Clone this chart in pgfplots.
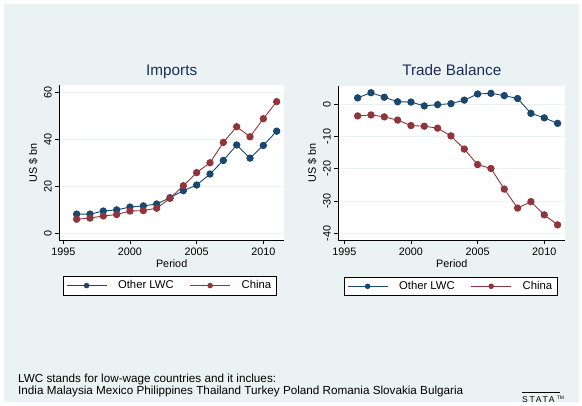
\documentclass[border=0pt]{standalone}
\usepackage{fontspec}
\setmainfont{Liberation Sans}
\usepackage{pgfplots}
\pgfplotsset{compat=1.18}
\definecolor{bg}{RGB}{234,242,243}
\definecolor{navyS}{RGB}{26,71,111}
\definecolor{maroonS}{RGB}{144,53,59}
\definecolor{titleS}{RGB}{30,45,90}

\pgfplotstableread{
year imp_lwc imp_chn bal_lwc bal_chn
1996 8.2 6.0 2.0 -3.6
1997 8.2 6.5 3.6 -3.3
1998 9.5 7.4 2.2 -3.9
1999 10.0 8.0 0.8 -4.9
2000 11.2 9.5 0.7 -6.6
2001 11.7 9.7 -0.5 -6.8
2002 12.5 10.7 -0.1 -7.4
2003 15.2 14.9 0.2 -9.8
2004 18.2 20.3 1.3 -13.9
2005 20.6 25.9 3.2 -18.7
2006 25.3 30.1 3.4 -19.9
2007 31.1 38.8 2.7 -26.3
2008 37.7 45.5 1.8 -32.2
2009 32.1 41.2 -2.8 -30.2
2010 37.5 48.9 -4.2 -34.3
2011 43.6 56.2 -5.9 -37.4
}\datatable

\pgfplotsset{
 statastyle/.style={
  scale only axis,
  axis x line*=bottom, axis y line*=left,
  axis line style={black, line width=0.8bp, -},
  axis background/.style={fill=white},
  tick align=outside,
  major tick length=4bp,
  tick style={black, line width=0.8bp},
  ymajorgrids, grid style={bg, line width=1bp},
  xtick={1995,2000,2005,2010},
  xticklabels={1995,2000,2005,2010},
  ticklabel style={font=\fontsize{10.8bp}{12bp}\selectfont},
  yticklabel style={rotate=90, anchor=south},
  title style={font=\fontsize{15.3bp}{17bp}\selectfont, text=titleS, anchor=base},
  xlabel={Period}, ylabel={US \$ bn},
  label style={font=\fontsize{10.8bp}{12bp}\selectfont},
  xlabel style={at={([yshift=-27bp]axis description cs:0.5,0)}, anchor=base},
  ylabel style={at={([xshift=-22.5bp]axis description cs:0,0.5)}, anchor=base},
  every axis plot/.append style={line width=0.9bp, mark=*, mark size=3.2bp},
  legend columns=2,
  legend style={anchor=north, draw=black, fill=white, line width=0.6bp,
    inner ysep=2.5bp, inner xsep=3bp,
    font=\fontsize{11.3bp}{13bp}\selectfont,
    /tikz/every odd column/.append style={column sep=9bp},
    /tikz/every even column/.append style={column sep=14bp}},
  legend image code/.code={\draw[mark size=2.3bp, mark repeat=2, mark phase=2] plot coordinates {(0bp,0bp) (20bp,0bp) (40bp,0bp)};},
 }
}

\begin{document}
\begin{tikzpicture}[x=1bp,y=1bp]
\fill[white] (0,0) rectangle (582,405);
\fill[bg] (4,3) rectangle (579,401);

\begin{axis}[statastyle,
  at={(59.3bp,165bp)}, anchor=south west,
  width=224.7bp, height=155bp,
  xmin=1994.7, xmax=2011.55,
  ymin=-2.86, ymax=63.3,
  ytick={0,20,40,60}, yticklabels={0,20,40,60},
  title={Imports},
  title style={at={([yshift=4bp]axis description cs:0.5,1)}},
  legend style={at={(0.491,-0.232)}},
]
\addplot[navyS, mark options={fill=navyS, draw=navyS}] table[x=year, y=imp_lwc] {\datatable};
\addplot[maroonS, mark options={fill=maroonS, draw=maroonS}] table[x=year, y=imp_chn] {\datatable};
\legend{Other LWC, China}
\end{axis}

\begin{axis}[statastyle,
  at={(338.3bp,165bp)}, anchor=south west,
  width=227bp, height=154bp,
  xmin=1994.55, xmax=2011.58,
  ymin=-42.1, ymax=5.68,
  ytick={-40,-30,-20,-10,0}, yticklabels={-40,-30,-20,-10,0},
  title={Trade Balance},
  title style={at={([yshift=5bp]axis description cs:0.5,1)}},
  legend style={at={(0.495,-0.238)}},
]
\addplot[navyS, mark options={fill=navyS, draw=navyS}] table[x=year, y=bal_lwc] {\datatable};
\addplot[maroonS, mark options={fill=maroonS, draw=maroonS}] table[x=year, y=bal_chn] {\datatable};
\legend{Other LWC, China}
\end{axis}

\node[anchor=base west, inner sep=0pt, font=\fontsize{11.7bp}{13bp}\selectfont] at (18,23) {LWC stands for low-wage countries and it inclues:};
\node[anchor=base west, inner sep=0pt, font=\fontsize{11.7bp}{13bp}\selectfont] at (18,11) {India Malaysia Mexico Philippines Thailand Turkey Poland Romania Slovakia Bulgaria};

\node[anchor=base west, inner sep=0pt, font=\fontsize{8.5bp}{9bp}\selectfont\addfontfeatures{LetterSpace=20}] (st) at (522,3) {STATA};
\node[anchor=base west, inner sep=0pt, font=\fontsize{5bp}{5bp}\selectfont] at ([xshift=2bp,yshift=3bp]st.base east) {TM};
\draw[black, line width=0.7bp] (522,13) -- (560,13);
\end{tikzpicture}
\end{document}
